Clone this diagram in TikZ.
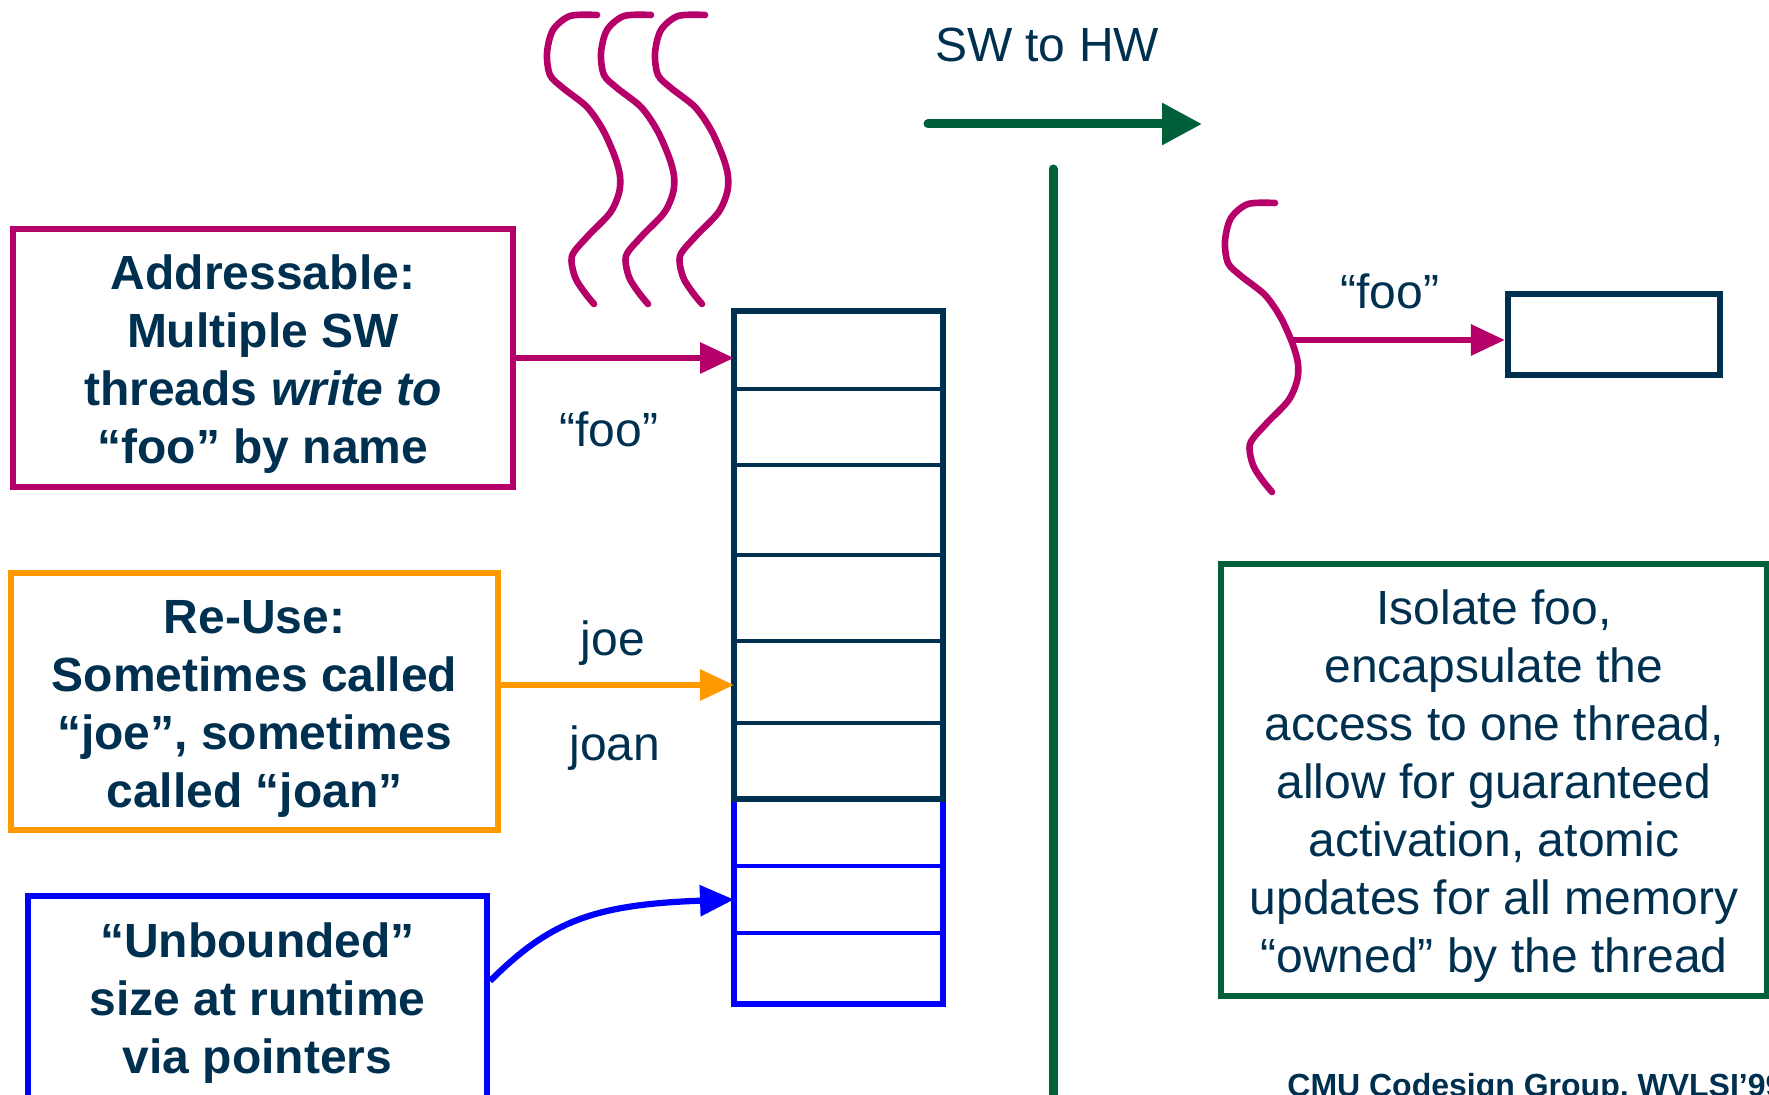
\documentclass[tikz,border=0pt]{standalone}
\usepackage{fontspec}
\setmainfont{Liberation Sans}
\usepackage{xcolor}
\usetikzlibrary{positioning, arrows.meta}

\definecolor{navy}{RGB}{0,48,80}
\definecolor{plum}{RGB}{181,0,105}
\definecolor{amber}{RGB}{255,153,0}
\definecolor{pblue}{RGB}{0,0,255}
\definecolor{dgreen}{RGB}{0,96,57}
\newcommand{\boxlift}{\rule{0pt}{23.5pt}}

\begin{document}
\begin{tikzpicture}[x=0.5pt, y=-0.5pt, >={Triangle[length=17pt, width=15pt]},
  box/.style={draw, line width=3.1pt, text=navy, align=center, font=\fontsize{24}{29}\selectfont\bfseries},
  cell/.style={draw=navy, line width=2.1pt, minimum width=104.5pt, outer sep=0pt, inner sep=0pt},
  bcell/.style={cell, draw=pblue, line width=2pt},
  lbl/.style={text=navy, font=\fontsize{24}{29}\selectfont},
  link/.style={->, line width=3.1pt},
  threadline/.style={plum, line width=3.3pt, line cap=round, line join=round},
  thread/.pic={\draw[threadline] plot[smooth] coordinates {(597,15) (570,16) (553,30) (547,53) (550,75) (563,88) (587,107) (603,130) (615,157) (620,176) (619,193) (610,213) (587,237) (572,256) (575,277) (585,293) (594,304)};}]

    \useasboundingbox (0,0) rectangle (1769,1095);

    % Draw threads
    \foreach \dx in {0,54,108}
      \pic at (\dx,0) {thread};
    \pic at (678,188) {thread};
    \coordinate (hook) at (1292,340);

    % Draw boxes
    \node (addr) [box, draw=plum, minimum width=250pt, minimum height=129pt] at (263,358) {\boxlift Addressable:\\Multiple SW\\threads \textit{write to}\\“foo” by name};
    \node (reuse) [box, draw=amber, minimum width=243.5pt, minimum height=128.5pt] at (254.5,701.5) {\boxlift Re-Use:\\Sometimes called\\“joe”, sometimes\\called “joan”};
    \node (unb) [box, draw=pblue, minimum width=229.5pt, minimum height=101pt] at (257.5,997) {\boxlift “Unbounded”\\size at runtime\\via pointers};
    \node (note) [box, draw=dgreen, font=\fontsize{24}{29}\selectfont, minimum width=273pt, minimum height=216pt] at (1494,780) {\boxlift Isolate foo,\\encapsulate the\\access to one thread,\\allow for guaranteed\\activation, atomic\\updates for all memory\\“owned” by the thread};
    \node (reg) [draw=navy, line width=3.1pt, minimum width=106pt, minimum height=40.5pt] at (1614,334.5) {};

    % Draw stack
    \node (c1) [cell, minimum height=39pt] at (838.5,350) {};
    \node (c2) [cell, minimum height=38pt, below=0pt of c1] {};
    \node (c3) [cell, minimum height=45pt, below=0pt of c2] {};
    \node (c4) [cell, minimum height=43pt, below=0pt of c3] {};
    \node (c5) [cell, minimum height=41pt, below=0pt of c4] {};
    \node (c6) [cell, minimum height=38pt, below=0pt of c5] {};
    \node (c7) [bcell, minimum height=33.5pt, below=0pt of c6] {};
    \node (c8) [bcell, minimum height=33.5pt, below=0pt of c7] {};
    \node (c9) [bcell, minimum height=35.5pt, below=0pt of c8] {};
    \draw[pblue, line width=3pt] (c7.north west) rectangle (c9.south east);
    \draw[navy, line width=3.3pt] (c1.north west) rectangle (c6.south east);

    % Draw labels
    \node (foo) [lbl] at (609,429) {“foo”};
    \node (joe) [lbl] at (613,643) {joe};
    \node (joan) [lbl] at (615,748) {joan};
    \node (foo2) [lbl] at (1390,291) {“foo”};
    \node (dir) [lbl] at (1047,45) {SW to HW};
    \node (credit) [anchor=base west, inner sep=0pt, text=navy, font=\fontsize{16}{19}\selectfont\bfseries] at (1287,1097) {CMU Codesign Group, WVLSI’99};

    % Draw arrows
    \draw[link, plum] (addr.east) -- (addr.east -| c1.west);
    \draw[link, amber] ([yshift=-1.5pt]c5.west -| reuse.east) -- ([yshift=-1.5pt]c5.west);
    \draw[link, pblue] ([yshift=8pt]unb.east) .. controls +(60,-60) and +(-140,5) .. (c8.west);
    \draw[link, plum] (hook) -- (hook -| reg.west);

    % Draw SW/HW split
    \coordinate (swtail) at (928,124);
    \coordinate (hwhead) at (1202,124);
    \coordinate (divtop) at (1053,169);
    \coordinate (divbot) at (1053,1110);
    \draw[dgreen, line width=4.5pt, line cap=round, -{Triangle[length=20pt, width=20pt]}] (swtail) -- (hwhead);
    \draw[dgreen, line width=4.5pt, line cap=round] (divtop) -- (divbot);

\end{tikzpicture}
\end{document}
